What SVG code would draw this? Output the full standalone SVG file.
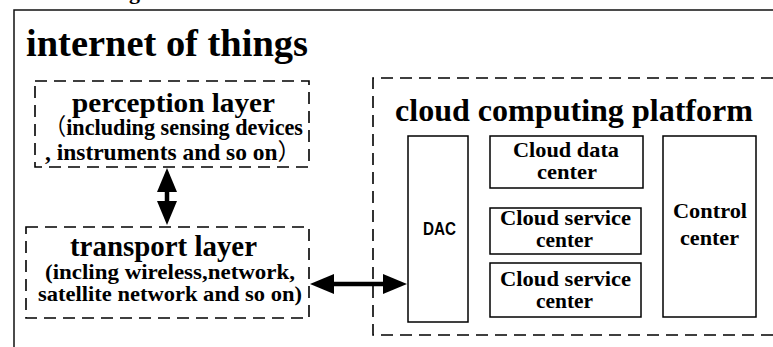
<svg xmlns="http://www.w3.org/2000/svg" width="773" height="347" viewBox="0 0 773 347">
  <style>
    .serif { font-family: 'Liberation Serif', 'Times New Roman', serif; font-weight: 700; fill: #000; }
    .cjk { font-family: 'Noto Sans CJK SC', sans-serif; font-weight: 400; }
    .sans { font-family: 'Liberation Sans', Arial, sans-serif; font-weight: 700; fill: #000; }
    .dash { fill: none; stroke: #000; stroke-width: 1.6; stroke-dasharray: 12 7; }
    .box { fill: #fff; stroke: #000; stroke-width: 1.5; }
    .frame { fill: none; stroke: #111; stroke-width: 1.5; }
    .link { stroke: #000; stroke-width: 4.5; fill: none; }
  </style>
  <defs>
    <marker id="head" markerUnits="userSpaceOnUse" viewBox="0 0 24 20" markerWidth="24" markerHeight="20" refX="4" refY="10" orient="auto-start-reverse">
      <path d="M0,0 L24,10 L0,20 z" fill="#000"/>
    </marker>
  </defs>

  <rect width="773" height="347" fill="#fff"/>

  <!-- caption fragment above the frame -->
  <text class="serif" x="129" y="-1" font-size="22" font-weight="400">g</text>

  <!-- outer frame -->
  <g id="iot-frame">
    <path class="frame" d="M14,347 V10 H773"/>
    <text class="serif" x="26" y="56" font-size="38" textLength="282" lengthAdjust="spacingAndGlyphs">internet of things</text>
  </g>

  <g id="perception-layer">
    <rect class="dash" x="35" y="81" width="274" height="86"/>
    <text class="serif" x="72" y="112" font-size="28" textLength="203" lengthAdjust="spacingAndGlyphs">perception layer</text>
    <text class="serif" x="44" y="135" font-size="23" textLength="259" lengthAdjust="spacingAndGlyphs"><tspan class="cjk">（</tspan>including sensing devices</text>
    <text class="serif" x="45" y="160" font-size="23" textLength="256" lengthAdjust="spacingAndGlyphs">, instruments and so on<tspan class="cjk">）</tspan></text>
  </g>

  <g id="transport-layer">
    <rect class="dash" x="26" y="227" width="283" height="91"/>
    <text class="serif" x="70" y="256" font-size="29" textLength="187" lengthAdjust="spacingAndGlyphs">transport layer</text>
    <text class="serif" x="45" y="279" font-size="22" textLength="250" lengthAdjust="spacingAndGlyphs">(incling wireless,network,</text>
    <text class="serif" x="38" y="301" font-size="22" textLength="264" lengthAdjust="spacingAndGlyphs">satellite network and so on)</text>
  </g>

  <g id="cloud-platform">
    <path class="dash" d="M773,78 H373 V335 H773"/>
    <text class="serif" x="395" y="121" font-size="32" textLength="358" lengthAdjust="spacingAndGlyphs">cloud computing platform</text>
  </g>

  <g id="dac">
    <rect class="box" x="408" y="136" width="60" height="186"/>
    <text class="sans" x="423" y="235" font-size="19" textLength="33" lengthAdjust="spacingAndGlyphs">DAC</text>
  </g>

  <g id="cloud-data-center">
    <rect class="box" x="490" y="136" width="153" height="52"/>
    <text class="serif" x="513" y="157" font-size="22" textLength="106" lengthAdjust="spacingAndGlyphs">Cloud data</text>
    <text class="serif" x="537" y="179" font-size="22" textLength="60" lengthAdjust="spacingAndGlyphs">center</text>
  </g>

  <g id="cloud-service-center-1">
    <rect class="box" x="490" y="208" width="151" height="46"/>
    <text class="serif" x="500" y="225" font-size="22" textLength="131" lengthAdjust="spacingAndGlyphs">Cloud service</text>
    <text class="serif" x="536" y="247" font-size="22" textLength="57" lengthAdjust="spacingAndGlyphs">center</text>
  </g>

  <g id="cloud-service-center-2">
    <rect class="box" x="490" y="263" width="151" height="54"/>
    <text class="serif" x="500" y="286" font-size="22" textLength="131" lengthAdjust="spacingAndGlyphs">Cloud service</text>
    <text class="serif" x="536" y="308" font-size="22" textLength="57" lengthAdjust="spacingAndGlyphs">center</text>
  </g>

  <g id="control-center">
    <rect class="box" x="663" y="136" width="93" height="181"/>
    <text class="serif" x="673" y="218" font-size="22" textLength="74" lengthAdjust="spacingAndGlyphs">Control</text>
    <text class="serif" x="680" y="245" font-size="22" textLength="59" lengthAdjust="spacingAndGlyphs">center</text>
  </g>

  <g id="connectors">
    <line class="link" x1="167" y1="188" x2="167" y2="205" marker-start="url(#head)" marker-end="url(#head)"/>
    <line class="link" x1="330" y1="284" x2="387" y2="284" marker-start="url(#head)" marker-end="url(#head)"/>
  </g>
</svg>
